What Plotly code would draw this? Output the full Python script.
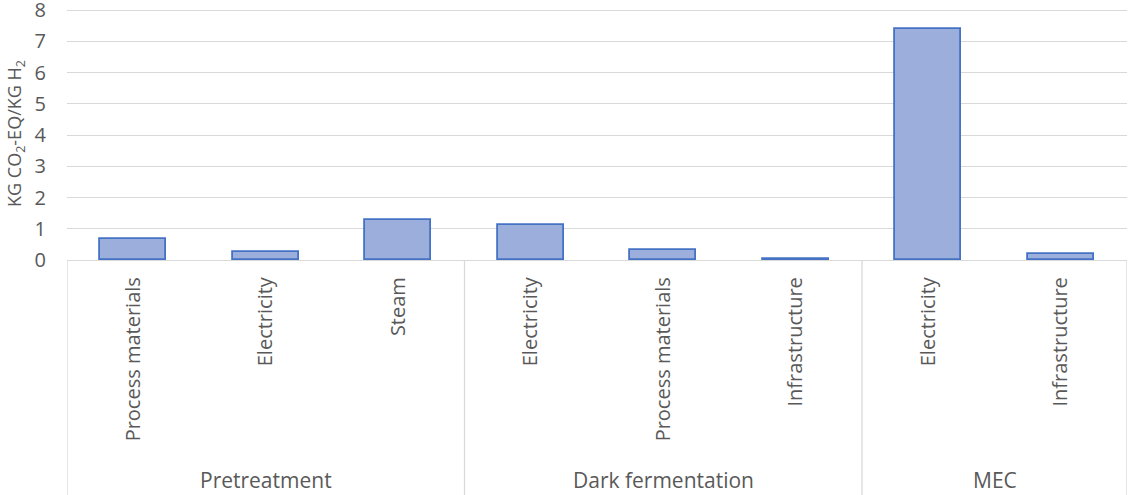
import plotly.graph_objects as go

# Emission contributions per process stage (kg CO2-eq per kg H2)
stages = ["Pretreatment", "Dark fermentation", "MEC"]
stage_sizes = [3, 3, 2]
items = ["Process materials", "Electricity", "Steam",
         "Electricity", "Process materials", "Infrastructure",
         "Electricity", "Infrastructure"]
values = [0.67, 0.25, 1.28, 1.13, 0.32, 0.04, 7.39, 0.19]
y_ticks = [0, 1, 2, 3, 4, 5, 6, 7, 8]

W, H = 1129, 495
M_L, M_R, M_T, M_B = 67, 2, 7, 235
plot_h = H - M_T - M_B
TEXT = "#595959"
GRID = "#d9d9d9"
FONT = "Open Sans"

positions = list(range(len(items)))

fig = go.Figure(go.Bar(
    x=positions,
    y=values,
    width=0.5,
    marker=dict(color="#9cafdc", line=dict(color="#4472c4", width=1.8)),
    hoverinfo="skip",
))

# group separators and group names below the axis
shapes = []
annotations = []
bottom = -(H - M_T - plot_h) / plot_h
start = 0
edges = [-0.5]
for name, n in zip(stages, stage_sizes):
    edges.append(start + n - 0.5)
    annotations.append(dict(
        x=start + (n - 1) / 2, xref="x", y=-(480 - M_T - plot_h) / plot_h, yref="paper",
        text=name, showarrow=False, font=dict(family=FONT, size=21, color=TEXT),
        xanchor="center", yanchor="middle",
    ))
    start += n
for e in edges:
    shapes.append(dict(type="line", xref="x", yref="paper", x0=e, x1=e,
                       y0=0, y1=bottom, line=dict(color=GRID, width=1.3)))

fig.update_layout(
    width=W, height=H,
    margin=dict(l=M_L, r=M_R, t=M_T, b=M_B, autoexpand=False),
    paper_bgcolor="white", plot_bgcolor="white",
    showlegend=False,
    bargap=0,
    shapes=shapes,
    annotations=annotations,
    xaxis=dict(
        range=[-0.5, len(items) - 0.5], automargin=False,
        tickmode="array", tickvals=positions, ticktext=items,
        tickangle=-90, ticks="", ticklabelstandoff=8,
        tickfont=dict(family=FONT, size=20, color=TEXT),
        showgrid=False, zeroline=False,
        showline=True, linecolor=GRID, linewidth=1.3,
    ),
    yaxis=dict(
        range=[0, 8.1], tickmode="array", tickvals=y_ticks, automargin=False,
        ticks="", ticklabelstandoff=20, ticklabeloverflow="allow",
        tickfont=dict(family=FONT, size=20, color=TEXT),
        showgrid=True, gridcolor=GRID, gridwidth=1.3,
        zeroline=False, showline=False,
        title=dict(text="KG CO<sub>2</sub>-EQ/KG H<sub>2</sub>",
                   font=dict(family=FONT, size=18, color=TEXT), standoff=8),
    ),
)

fig.write_html("out.html")
